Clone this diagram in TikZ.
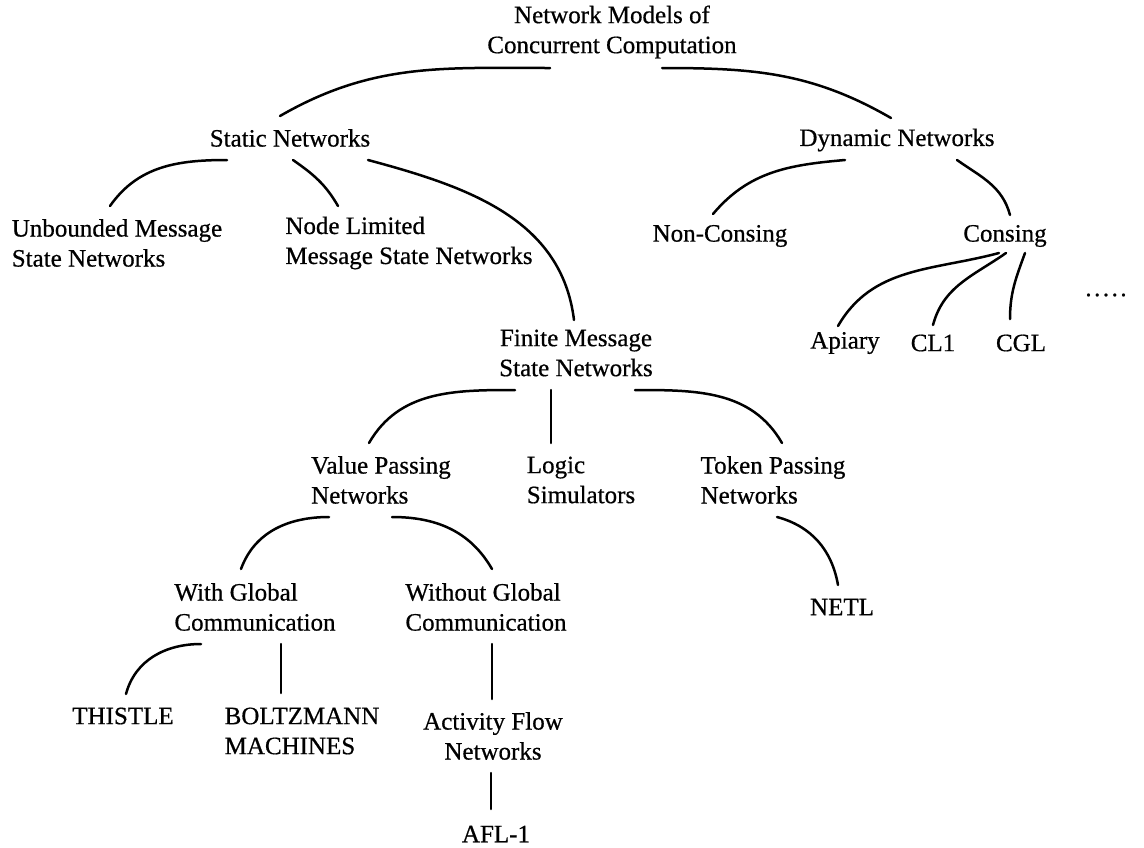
\documentclass[tikz,border=0pt]{standalone}
\usepackage{fontspec}
\setmainfont[FakeBold=0.6]{Liberation Serif}
\usepackage{tikz}

\begin{document}
\begin{tikzpicture}[x=1pt, y=1pt,
  every node/.style={inner sep=0pt, font=\fontsize{25}{30}\selectfont},
  mid/.style={align=center},
  lft/.style={align=left},
  link/.style={line width=2.5pt, line cap=round}
]
\useasboundingbox (0,0) rectangle (1144,-847);

\node[mid] (root) at (612,-32) {Network Models of\\Concurrent Computation};
\node (static) at (290,-138) {Static Networks};
\node (dynamic) at (897,-140) {Dynamic Networks};
\node[lft] (unbound) at (117,-243) {Unbounded Message\\State Networks};
\node[lft] (nodelim) at (409,-243) {Node Limited\\Message State Networks};
\node (noncons) at (720,-236) {Non-Consing};
\node (cons) at (1005,-236) {Consing};
\node (apiary) at (845,-343) {Apiary};
\node (cl1) at (933,-343) {CL1};
\node (cgl) at (1021,-343) {CGL};
\node (more) at (1106,-295) {.\hspace{2.5pt}.\hspace{2.5pt}.\hspace{2.5pt}.\hspace{2.5pt}.};
\node[mid] (finite) at (576,-353) {Finite Message\\State Networks};
\node[lft] (value) at (381,-480) {Value Passing\\Networks};
\node[lft] (logic) at (581,-480) {Logic\\Simulators};
\node[lft] (token) at (773,-480) {Token Passing\\Networks};
\node[lft] (with) at (255,-607) {With Global\\Communication};
\node[lft] (without) at (486,-607) {Without Global\\Communication};
\node (netl) at (842,-607) {NETL};
\node (thistle) at (123,-716) {THISTLE};
\node[lft] (boltz) at (302,-731) {BOLTZMANN\\MACHINES};
\node[mid] (activity) at (493,-736) {Activity Flow\\Networks};
\node (afl) at (496,-834) {AFL-1};

\draw[link] ([shift={(-62,-36)}]root.center) to[out=180,in=30] ([shift={(-10,22)}]static.center);
\draw[link] ([shift={(50,-36)}]root.center) to[out=0,in=150] ([shift={(-6,22)}]dynamic.center);
\draw[link] ([shift={(-63,-22)}]static.center) to[out=180,in=55] ([shift={(-7,37)}]unbound.center);
\draw[link] ([shift={(3,-22)}]static.center) to[out=-35,in=120] ([shift={(-71,37)}]nodelim.center);
\draw[link] ([shift={(78,-22)}]static.center) to[out=-15,in=97] ([shift={(-2,33)}]finite.center);
\draw[link] ([shift={(-52,-20)}]dynamic.center) to[out=185,in=50] ([shift={(-7,22)}]noncons.center);
\draw[link] ([shift={(60,-20)}]dynamic.center) to[out=-35,in=105] ([shift={(5,21)}]cons.center);
\draw[link] ([shift={(-6,-17)}]cons.center) to[out=195,in=60] ([shift={(-7,17)}]apiary.center);
\draw[link] ([shift={(1,-17)}]cons.center) to[out=215,in=75] ([shift={(0,18)}]cl1.center);
\draw[link] ([shift={(20,-17)}]cons.center) to[out=-110,in=90] ([shift={(-11,24)}]cgl.center);
\draw[link] ([shift={(-61,-37)}]finite.center) to[out=180,in=60] ([shift={(-12,37)}]value.center);
\draw[link] ([shift={(-25,-37)}]finite.center) -- ([shift={(-30,37)}]logic.center);
\draw[link] ([shift={(59,-37)}]finite.center) to[out=0,in=120] ([shift={(9,37)}]token.center);
\draw[link] ([shift={(-52,-37)}]value.center) to[out=180,in=70] ([shift={(-14,38)}]with.center);
\draw[link] ([shift={(11,-37)}]value.center) to[out=0,in=120] ([shift={(6,38)}]without.center);
\draw[link] ([shift={(4,-37)}]token.center) to[out=-15,in=100] ([shift={(-4,22)}]netl.center);
\draw[link] ([shift={(-54,-37)}]with.center) to[out=180,in=75] ([shift={(3,22)}]thistle.center);
\draw[link] ([shift={(26,-37)}]with.center) -- ([shift={(-21,38)}]boltz.center);
\draw[link] ([shift={(6,-37)}]without.center) -- ([shift={(-1,37)}]activity.center);
\draw[link] ([shift={(-2,-37)}]activity.center) -- ([shift={(-5,25)}]afl.center);
\end{tikzpicture}
\end{document}
